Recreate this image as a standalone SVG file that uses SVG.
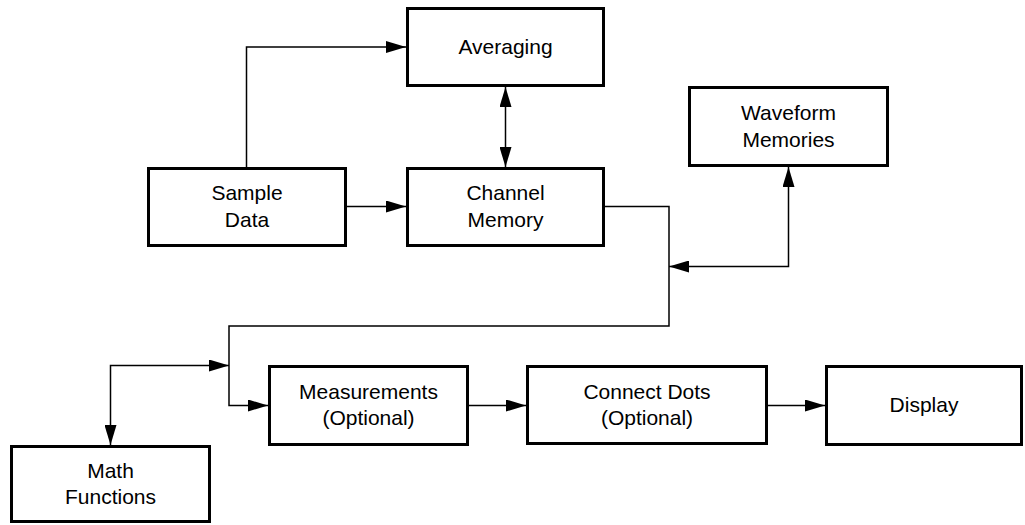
<svg xmlns="http://www.w3.org/2000/svg" width="1025" height="525" viewBox="0 0 1025 525">
<style>
  .box rect { fill: #fff; stroke: #000; stroke-width: 3; }
  .box text { font-family: "Liberation Sans", Arial, sans-serif; font-size: 21px; fill: #000; text-anchor: middle; }
  .conn path { fill: none; stroke: #000; stroke-width: 1.5; }
</style>
<defs>
  <marker id="arr" viewBox="0 0 20 12" refX="20" refY="6" markerWidth="20" markerHeight="12" markerUnits="userSpaceOnUse" orient="auto-start-reverse">
    <path d="M0,0 L20,6 L0,12 Z" fill="#000"/>
  </marker>
</defs>
<rect width="1025" height="525" fill="#fff"/>
<g id="connectors" class="conn">
  <path d="M246.5,167 V47 H406" marker-end="url(#arr)"/>
  <path d="M347,206.5 H406" marker-end="url(#arr)"/>
  <path d="M505.5,87 V167" marker-start="url(#arr)" marker-end="url(#arr)"/>
  <path d="M605,206.5 H669 V326 H229 V405.5 H268" marker-end="url(#arr)"/>
  <path d="M788.5,167 V266.5 H669" marker-start="url(#arr)" marker-end="url(#arr)"/>
  <path d="M110.5,445 V365.5 H229" marker-start="url(#arr)" marker-end="url(#arr)"/>
  <path d="M469,405.5 H526" marker-end="url(#arr)"/>
  <path d="M768,405.5 H825" marker-end="url(#arr)"/>
</g>
<g id="averaging" class="box">
  <rect x="407.5" y="8.5" width="196" height="77"/>
  <text x="505.5" y="54">Averaging</text>
</g>
<g id="sample-data" class="box">
  <rect x="148.5" y="168.5" width="197" height="77"/>
  <text x="247" y="200">Sample</text>
  <text x="247" y="227">Data</text>
</g>
<g id="channel-memory" class="box">
  <rect x="407.5" y="168.5" width="196" height="77"/>
  <text x="505.5" y="200">Channel</text>
  <text x="505.5" y="227">Memory</text>
</g>
<g id="waveform-memories" class="box">
  <rect x="689.5" y="87.5" width="198" height="78"/>
  <text x="788.5" y="120">Waveform</text>
  <text x="788.5" y="147">Memories</text>
</g>
<g id="math-functions" class="box">
  <rect x="11.5" y="446.5" width="198" height="75"/>
  <text x="110.5" y="478">Math</text>
  <text x="110.5" y="504">Functions</text>
</g>
<g id="measurements" class="box">
  <rect x="269.5" y="366.5" width="198" height="78"/>
  <text x="368.5" y="399">Measurements</text>
  <text x="368.5" y="425">(Optional)</text>
</g>
<g id="connect-dots" class="box">
  <rect x="527.5" y="366.5" width="239" height="77"/>
  <text x="647" y="399">Connect Dots</text>
  <text x="647" y="425">(Optional)</text>
</g>
<g id="display" class="box">
  <rect x="826.5" y="366.5" width="195" height="78"/>
  <text x="924" y="412">Display</text>
</g>
</svg>
